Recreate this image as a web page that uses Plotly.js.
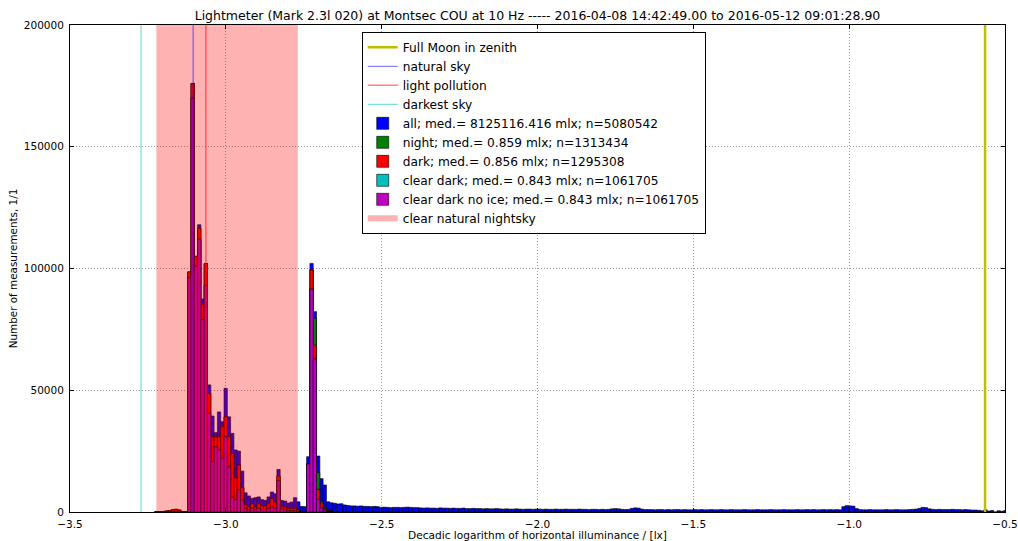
<!DOCTYPE html>
<html><head><meta charset="utf-8">
<script src="https://cdn.plot.ly/plotly-3.0.1.min.js"></script>
<style>html,body{margin:0;padding:0;background:#fff}#chart{width:1018px;height:541px}</style>
</head><body><div id="chart"></div>
<script>
// histogram bin grid (decadic log of illuminance)
const binLeft = -3.2284;
const binWidth = 0.0106;

const allCounts = [
0,0,200,400,600,900,1100,800,0,0,
98600,176000,105000,118000,87500,102000,52200,39400,32600,41100,
37100,50800,39100,32300,25500,25000,16800,7900,6600,5600,
5900,6200,5100,4800,6200,8200,7500,17500,4800,4500,
3700,4100,5900,4200,2300,2200,22700,102100,82300,23000,
13700,11100,4200,3800,3600,3300,3400,2900,2700,2500,
2500,2400,2500,2300,2300,2200,2300,2200,1900,2000,
1900,1800,1900,1900,1800,1900,2000,1900,1800,1800,
1700,1600,1700,1600,1600,1500,1700,1600,1600,1500,
1600,1500,1500,1600,1400,1400,1500,1400,1400,1300,
1400,1300,1300,1400,1300,1200,1300,1200,1200,1300,
1200,1100,1200,1200,1100,1200,1200,1100,1200,1100,
1100,1200,1100,1100,1200,1100,1100,1100,1200,1100,
1100,1000,1100,1100,1000,1100,1000,1100,1300,1400,
1300,1100,1000,1100,1500,1700,1600,1200,1000,1000,
1000,900,1000,1000,900,1000,900,1000,1000,900,
1000,900,900,1000,900,1000,900,900,1000,900,
900,1000,900,900,1000,900,900,900,1000,900,
900,900,1000,900,900,900,1000,900,900,900,
1000,900,900,900,1000,900,900,1000,900,1000,
900,900,1000,900,1000,900,1000,900,2200,2600,
2500,2400,1400,1000,900,900,1000,900,900,900,
900,1000,900,900,1000,900,900,900,1000,1100,
1200,1500,1900,1800,1300,1100,1000,1100,1000,1000,
1000,1100,1000,1000,900,1000,900,800,800,700,
500,900,400,600,0,500,300,600
];
const nightCounts = [
0,0,200,400,600,900,1100,800,0,0,
98600,176000,105000,116500,85200,102000,48700,30900,30900,31000,
35100,39100,30900,24000,14000,19300,10000,2900,2000,3400,
2000,3400,2500,2500,3400,5600,4000,14800,2300,2000,
1500,1500,1500,1000,300,300,19700,99400,79500,16200,
4500,2000,800,500
];
const darkCounts = [
0,0,200,400,600,900,1100,800,0,0,
98600,176000,105000,116500,85200,102000,48700,30900,30900,31000,
35100,39100,30900,24000,14000,19300,10000,2900,2000,3400,
2000,3400,2500,2500,3400,5600,4000,14800,2300,2000,
1500,1500,1500,1000,300,300,19700,99400,68600,9300,
3800,1500,500,300
];
const clearDarkCounts = [
0,0,0,0,0,0,0,0,0,0,
96200,170000,100900,112000,79000,93000,40500,20700,26800,25500,
22000,30900,18600,6000,5000,9000,4900,1200,800,1500,
1000,1500,1000,1000,1500,2000,1500,12900,1200,800,
500,500,500,300,0,0,19700,91500,62800,5200,
1600,800,0,0
];
const clearDarkNoIceCounts = [
0,0,0,0,0,0,0,0,0,0,
96200,170000,100900,112000,79000,93000,40500,20700,26800,25500,
22000,30900,18600,6000,5000,9000,4900,1200,800,1500,
1000,1500,1000,1000,1500,2000,1500,12900,1200,800,
500,500,500,300,0,0,19700,91500,62800,5200,
1600,800,0,0
];

// reference levels
const fullMoonX = -0.564;
const naturalSkyX = -3.105;
const lightPollutionX = -3.064;
const darkestSkyX = -3.272;
const nightskyRange = [-3.223, -2.769];

const xTickVals = [-3.5, -3.0, -2.5, -2.0, -1.5, -1.0, -0.5];
const xTickText = ["\u22123.5", "\u22123.0", "\u22122.5", "\u22122.0", "\u22121.5", "\u22121.0", "\u22120.5"];
const yTickVals = [0, 50000, 100000, 150000, 200000];
const yTickText = ["0", "50000", "100000", "150000", "200000"];
const yRange = [0, 200000];

const seriesNames = [
  "all; med.= 8125116.416 mlx; n=5080542",
  "night; med.= 0.859 mlx; n=1313434",
  "dark; med.= 0.856 mlx; n=1295308",
  "clear dark; med.= 0.843 mlx; n=1061705",
  "clear dark no ice; med.= 0.843 mlx; n=1061705"
];
const seriesColors = ["#0000ff", "#008000", "#ff0000", "#00bfbf", "#bf00bf"];
const seriesData = [allCounts, nightCounts, darkCounts, clearDarkCounts, clearDarkNoIceCounts];

const centers = arr => arr.map((_, i) => binLeft + (i + 0.5) * binWidth);

const traces = [];
seriesData.forEach((arr, j) => {
  traces.push({
    type: 'bar', x: centers(arr), y: arr, width: binWidth,
    name: seriesNames[j], legendrank: 5 + j,
    marker: {color: seriesColors[j], line: {color: '#000', width: 0.6}}
  });
});
// shaded clear natural nightsky band (over the bars, as in the original)
traces.push({
  type: 'scatter', mode: 'none', fill: 'toself',
  x: [nightskyRange[0], nightskyRange[1], nightskyRange[1], nightskyRange[0], nightskyRange[0]],
  y: [yRange[0], yRange[0], yRange[1], yRange[1], yRange[0]],
  fillcolor: 'rgba(255,0,0,0.3)', name: 'clear natural nightsky', legendrank: 10
});
const vline = (x, name, color, width, rank) => ({
  type: 'scatter', mode: 'lines', x: [x, x], y: yRange, name: name, legendrank: rank,
  line: {color: color, width: width}
});
traces.push(vline(darkestSkyX, 'darkest sky', 'rgba(0,191,191,0.65)', 1, 4));
traces.push(vline(lightPollutionX, 'light pollution', 'rgba(255,0,0,0.5)', 1.5, 3));
traces.push(vline(naturalSkyX, 'natural sky', 'rgba(0,0,255,0.6)', 1, 2));
traces.push(vline(fullMoonX, 'Full Moon in zenith', '#bfbf00', 2.5, 1));

const axisCommon = {
  ticks: 'inside', ticklen: 4, tickcolor: '#000', mirror: 'allticks',
  showline: true, linecolor: '#000', linewidth: 1,
  showgrid: true, gridcolor: '#999', griddash: '1px,2px', gridwidth: 1,
  zeroline: false, automargin: false, tickfont: {size: 10.5, color: '#000'}
};

const layout = {
  width: 1018, height: 541,
  margin: {l: 70, r: 13, t: 25, b: 29},
  paper_bgcolor: '#fff', plot_bgcolor: '#fff',
  font: {family: 'DejaVu Sans', size: 10.5, color: '#000'},
  title: {
    text: 'Lightmeter (Mark 2.3l 020) at Montsec COU at 10 Hz ----- 2016-04-08 14:42:49.00 to 2016-05-12 09:01:28.90',
    font: {size: 12.5, color: '#000'}, x: 0.5, xref: 'paper', xanchor: 'center',
    y: 1 - 16 / 541, yref: 'container', yanchor: 'middle'
  },
  barmode: 'overlay', bargap: 0, showlegend: true,
  xaxis: Object.assign({}, axisCommon, {
    range: [-3.5, -0.5], tickvals: xTickVals, ticktext: xTickText, ticklabelstandoff: 2,
    title: {text: 'Decadic logarithm of horizontal illuminance / [lx]', font: {size: 10.6}, standoff: 3}
  }),
  yaxis: Object.assign({}, axisCommon, {
    range: yRange, tickvals: yTickVals, ticktext: yTickText, ticklabelstandoff: 3,
    title: {text: 'Number of measurements, 1/1', font: {size: 10.4}, standoff: 4}
  }),
  legend: {
    x: 0.312, y: 0.986, xanchor: 'left', yanchor: 'top',
    bordercolor: '#000', borderwidth: 1, bgcolor: '#fff',
    font: {size: 12.2, color: '#000'}, traceorder: 'normal', itemwidth: 30
  }
};

Plotly.newPlot('chart', traces, layout, {staticPlot: true, displayModeBar: false});
</script>
</body></html>
